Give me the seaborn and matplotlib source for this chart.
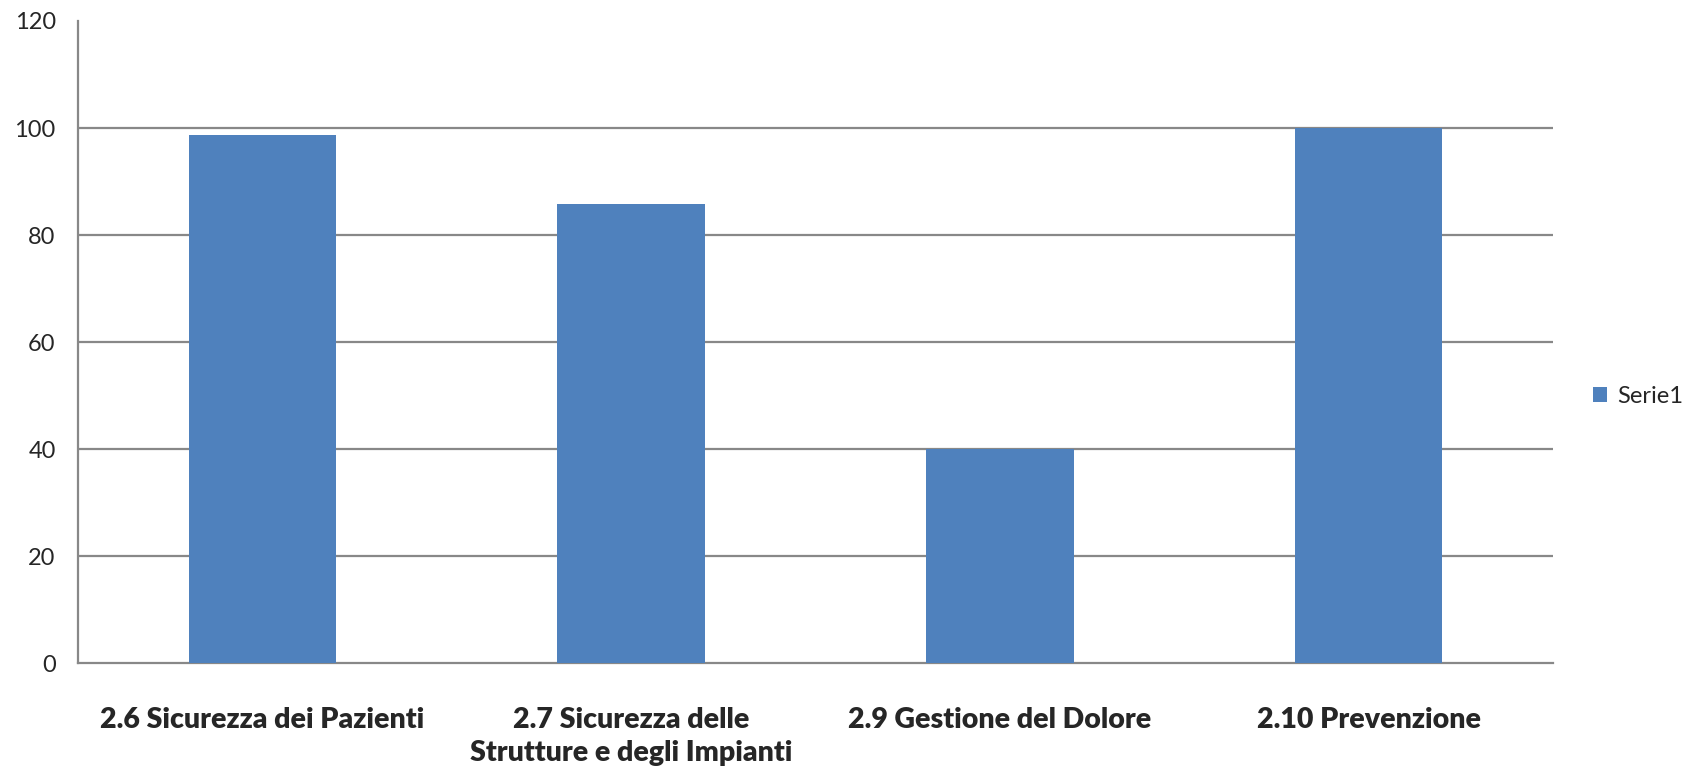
import matplotlib.pyplot as plt
import seaborn as sns
import pandas as pd

categories = [
    "2.6 Sicurezza dei Pazienti",
    "2.7 Sicurezza delle\nStrutture e degli Impianti",
    "2.9 Gestione del Dolore",
    "2.10 Prevenzione",
]
values = [98.7, 85.8, 40, 100]
series_name = "Serie1"
y_ticks = [0, 20, 40, 60, 80, 100, 120]

sns.set_style("white")
plt.rcParams["font.family"] = ["Lato", "DejaVu Sans"]

df = pd.DataFrame({"categoria": categories, "valore": values, "serie": series_name})

fig = plt.figure(figsize=(16.95, 7.69), dpi=100)
ax = fig.add_axes([0.046, 0.1378, 0.8702, 0.8349])

sns.barplot(data=df, x="categoria", y="valore", hue="serie", palette=["#4F81BD"],
            width=0.4, ax=ax, zorder=3, saturation=1, linewidth=0)

ax.set_xlim(-0.5, len(categories) - 0.5)
ax.set_ylim(0, 120)
ax.set_yticks(y_ticks)
ax.set_yticklabels([str(t) for t in y_ticks], fontsize=17)
ax.set_xlabel("")
ax.set_ylabel("")

# gridlines at 20..100 only
ax.yaxis.grid(True, color="#888888", linewidth=1.6, zorder=0)
for t, gl in zip(y_ticks, ax.yaxis.get_gridlines()):
    if t in (0, 120):
        gl.set_visible(False)

# category labels centered, ticks at boundaries
ax.set_xticks(range(len(categories)))
ax.set_xticklabels(categories, fontsize=20.5, fontweight="heavy", linespacing=1.3,
                   va="top")
ax.tick_params(axis="x", which="major", length=0, pad=32)
ax.set_xticks([i - 0.5 for i in range(len(categories) + 1)], minor=True)
ax.tick_params(axis="x", which="minor", length=8, width=1.6, color="#888888",
               direction="out")
ax.tick_params(axis="y", length=6, width=1.6, color="#888888", direction="out", pad=10)

for side in ["top", "right"]:
    ax.spines[side].set_visible(False)
for side in ["left", "bottom"]:
    ax.spines[side].set_color("#888888")
    ax.spines[side].set_linewidth(1.6)

ax.legend(loc="center left", bbox_to_anchor=(0.940, 0.485),
          bbox_transform=fig.transFigure, frameon=False, borderpad=0,
          borderaxespad=0, fontsize=17, handlelength=0.6, handleheight=0.6,
          handletextpad=0.4)

fig.savefig("out.png", dpi=100)
